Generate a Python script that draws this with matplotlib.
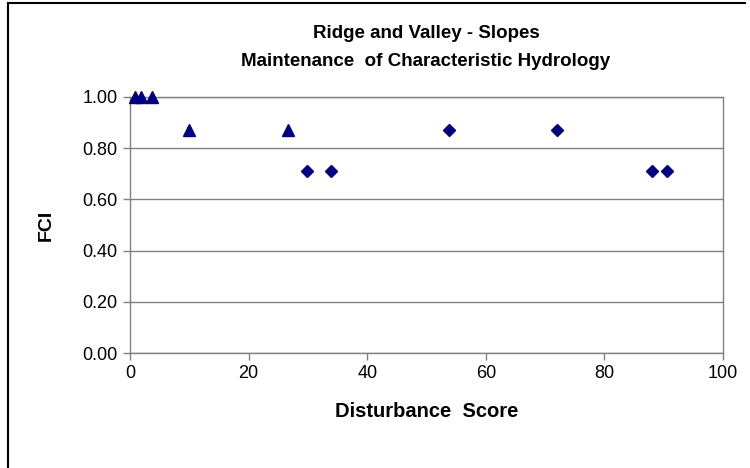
import matplotlib
matplotlib.use("Agg")
import matplotlib.pyplot as plt
from matplotlib.lines import Line2D

plt.rcParams['font.family'] = ['Liberation Sans', 'DejaVu Sans']

title_lines = ["Ridge and Valley - Slopes", "Maintenance  of Characteristic Hydrology"]
x_label = "Disturbance  Score"
y_label = "FCI"

tri_x = [0.9, 1.9, 3.7, 10.0, 26.6]
tri_y = [1.00, 1.00, 1.00, 0.87, 0.87]
dia_x = [29.8, 33.9, 53.8, 72.0, 88.0, 90.5]
dia_y = [0.71, 0.71, 0.87, 0.87, 0.71, 0.71]

x_ticks = [0, 20, 40, 60, 80, 100]
y_ticks = [0.0, 0.2, 0.4, 0.6, 0.8, 1.0]

W, H = 750, 468
fig = plt.figure(figsize=(7.5, 4.68), dpi=100)
ax = fig.add_axes([130 / W, 1 - 353 / H, (723 - 130) / W, (353 - 97) / H])

grid_c = '#808080'
for y in y_ticks:
    ax.axhline(y, color=grid_c, lw=1.0, zorder=1)

ax.plot(tri_x, tri_y, linestyle='none', marker='^', markersize=9,
        color='#000080', clip_on=False, zorder=3)
ax.plot(dia_x, dia_y, linestyle='none', marker='D', markersize=6.2,
        color='#000080', clip_on=False, zorder=3)

ax.set_xlim(0, 100)
ax.set_ylim(0, 1)
ax.set_xticks(x_ticks)
ax.set_xticklabels([str(t) for t in x_ticks])
ax.set_yticks(y_ticks)
ax.set_yticklabels([f"{t:.2f}" for t in y_ticks])
for s in ax.spines.values():
    s.set_color(grid_c)
    s.set_linewidth(1.0)
ax.tick_params(axis='both', direction='out', length=5, width=1.0,
               color=grid_c, labelsize=13, labelcolor='black', pad=4)

ax.set_xlabel(x_label, fontsize=14.5, fontweight='bold', labelpad=14)
ax.set_ylabel(y_label, fontsize=14, fontweight='bold', labelpad=20)

fig.text(426 / W, 1 - 33 / H, title_lines[0], ha='center', va='center',
         fontsize=13.5, fontweight='bold')
fig.text(426 / W, 1 - 62 / H, title_lines[1], ha='center', va='center',
         fontsize=13.5, fontweight='bold')

# partial outer frame (left and top)
fig.add_artist(Line2D([7.5 / W, 7.5 / W], [0, 1 - 3 / H], transform=fig.transFigure,
                      color='black', lw=1.5))
fig.add_artist(Line2D([7.5 / W, 745 / W], [1 - 3 / H, 1 - 3 / H], transform=fig.transFigure,
                      color='black', lw=1.5))

fig.savefig("out.png", dpi=100)
